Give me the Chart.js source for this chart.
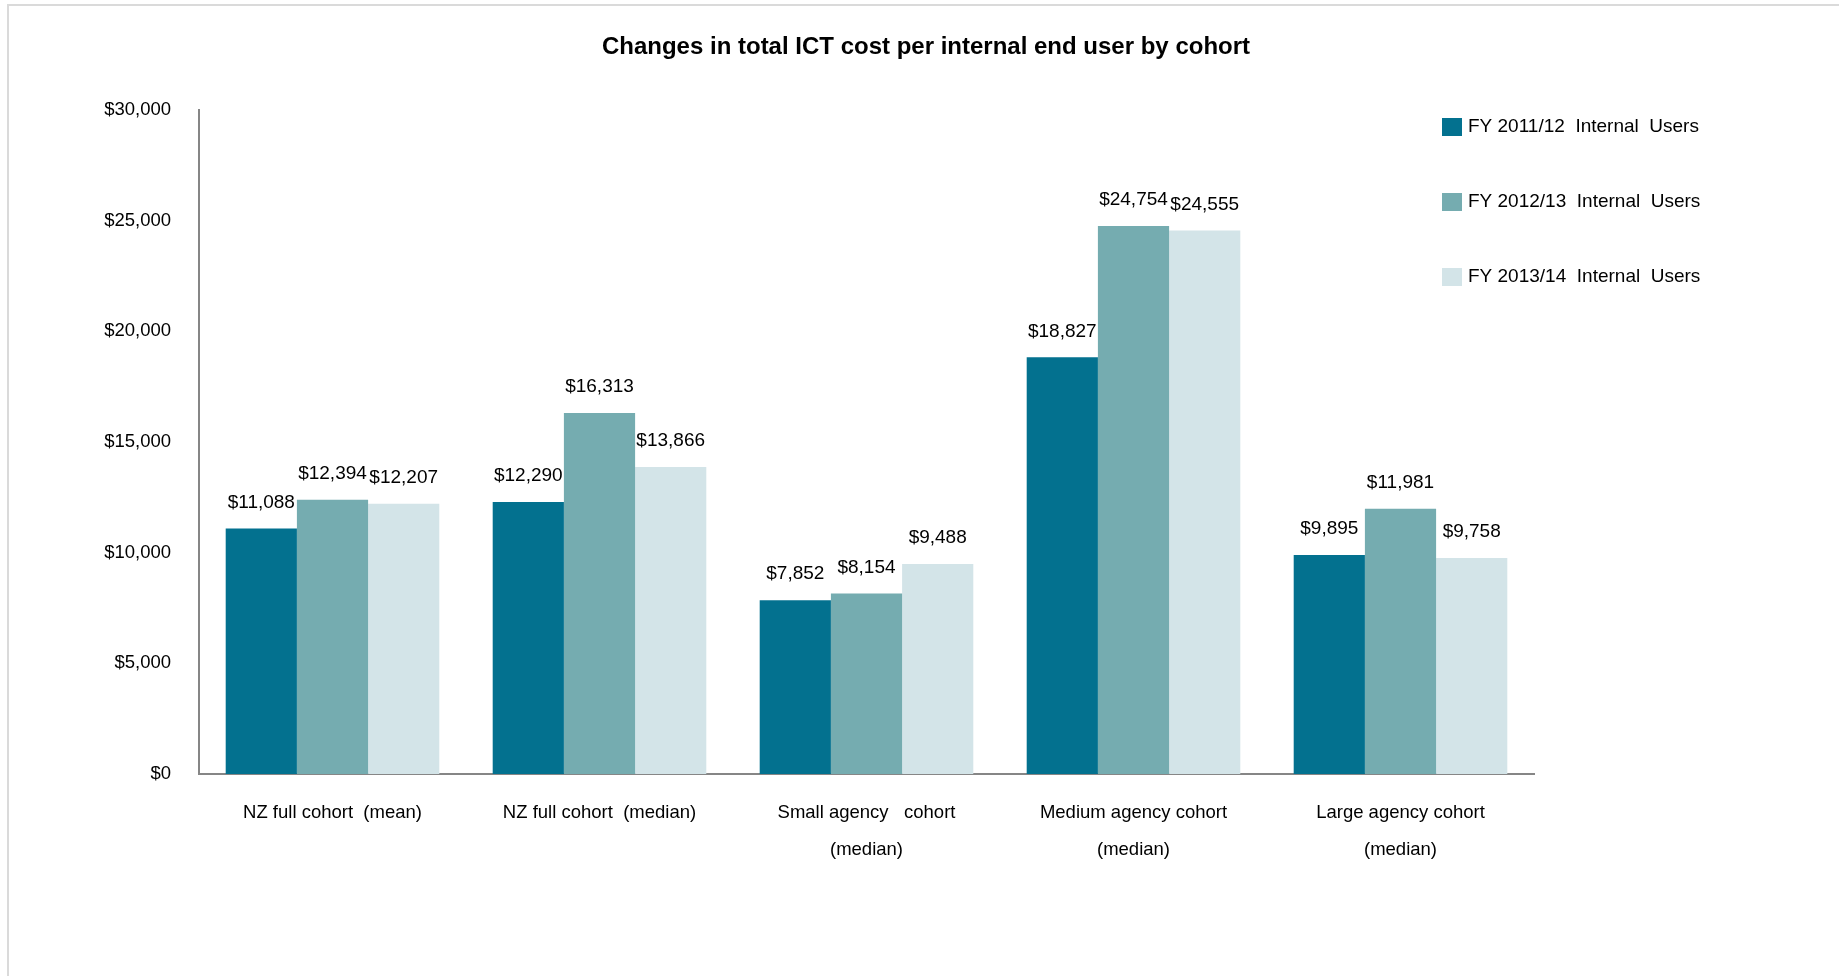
<!DOCTYPE html>
<html>
<head>
<meta charset="utf-8">
<script src="https://cdn.jsdelivr.net/npm/chart.js@4/dist/chart.umd.min.js"></script>
<style>
  html, body { margin: 0; padding: 0; background: #fff; overflow: hidden; }
  #frame { position: absolute; left: 7px; top: 4px; width: 1900px; height: 1000px;
           border-top: 2px solid #dadada; border-left: 2px solid #dadada; }
  #wrap { position: absolute; left: 0; top: 0; width: 1839px; height: 976px; }
</style>
</head>
<body>
<div id="frame"></div>
<div id="wrap"><canvas id="chartIct"></canvas></div>
<script>
const kategori = [
  'NZ full cohort  (mean)',
  'NZ full cohort  (median)',
  ['Small agency   cohort', '(median)'],
  ['Medium agency cohort', '(median)'],
  ['Large agency cohort', '(median)']
];
const fy1112 = [11088, 12290, 7852, 18827, 9895];
const fy1213 = [12394, 16313, 8154, 24754, 11981];
const fy1314 = [12207, 13866, 9488, 24555, 9758];
const namaSeri = ['FY 2011/12  Internal  Users', 'FY 2012/13  Internal  Users', 'FY 2013/14  Internal  Users'];
const warna = ['#03718f', '#75acb0', '#d3e4e8'];
const judul = 'Changes in total ICT cost per internal end user by cohort';

const FONT = '"Liberation Sans", Arial, sans-serif';
const rupiah = v => '$' + Number(v).toLocaleString('en-US');

// judul + legenda digambar sendiri supaya posisinya pas
const judulLegenda = {
  id: 'judulLegenda',
  afterDraw(chart) {
    const c = chart.ctx;
    c.save();
    c.fillStyle = '#000';
    c.font = 'bold 24px ' + FONT;
    c.textAlign = 'center';
    c.textBaseline = 'middle';
    c.fillText(judul, 926, 47);

    c.font = '19px ' + FONT;
    c.textAlign = 'left';
    chart.data.datasets.forEach((ds, i) => {
      const y = 127 + i * 75;
      c.fillStyle = ds.backgroundColor;
      c.fillRect(1442, y - 9, 20, 18);
      c.fillStyle = '#000';
      c.fillText(ds.label, 1468, y);
    });
    c.restore();
  }
};

// label nilai di atas tiap batang
const labelNilai = {
  id: 'labelNilai',
  afterDatasetsDraw(chart) {
    const c = chart.ctx;
    c.save();
    c.font = '19px ' + FONT;
    c.fillStyle = '#000';
    c.textAlign = 'center';
    c.textBaseline = 'middle';
    chart.data.datasets.forEach((ds, i) => {
      chart.getDatasetMeta(i).data.forEach((bar, j) => {
        c.fillText(rupiah(ds.data[j]), bar.x, bar.y - 26);
      });
    });
    c.restore();
  }
};

const ctx = document.getElementById('chartIct').getContext('2d');
new Chart(ctx, {
  type: 'bar',
  data: {
    labels: kategori,
    datasets: [fy1112, fy1213, fy1314].map((d, i) => ({
      label: namaSeri[i],
      data: d,
      backgroundColor: warna[i],
      borderWidth: 0,
      categoryPercentage: 0.8,
      barPercentage: 1.0
    }))
  },
  options: {
    responsive: true,
    maintainAspectRatio: false,
    animation: false,
    layout: { padding: { left: 0, top: 110, right: 305, bottom: 0 } },
    plugins: {
      legend: { display: false },
      title: { display: false },
      tooltip: { enabled: false }
    },
    scales: {
      x: {
        grid: { display: false, drawTicks: false },
        border: { display: true, color: '#868686', width: 2 },
        ticks: {
          color: '#000',
          padding: 20,
          maxRotation: 0,
          autoSkip: false,
          font: { family: FONT, size: 18.5, lineHeight: '37px' }
        },
        afterFit: s => { s.height = 202; }
      },
      y: {
        min: 0,
        max: 30000,
        grid: { display: false, drawTicks: false },
        border: { display: true, color: '#868686', width: 2 },
        ticks: {
          stepSize: 5000,
          color: '#000',
          padding: 28,
          font: { family: FONT, size: 18.5 },
          callback: v => rupiah(v)
        },
        afterFit: s => { s.width = 199; }
      }
    }
  },
  plugins: [judulLegenda, labelNilai]
});
</script>
</body>
</html>
